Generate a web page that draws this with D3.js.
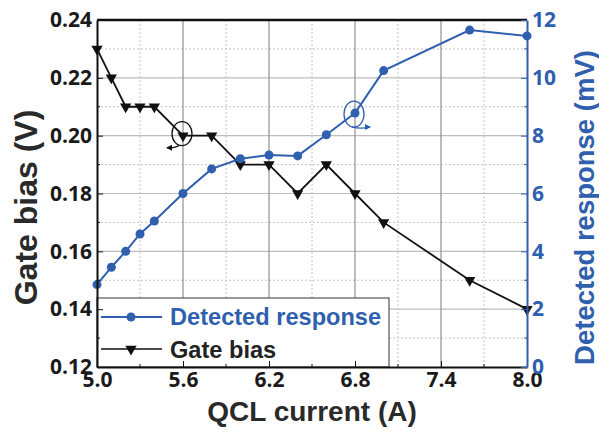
<!DOCTYPE html>
<html>
<head>
<meta charset="utf-8">
<script src="https://cdn.jsdelivr.net/npm/d3@7"></script>
<style>
  body { margin: 0; background: #fff; }
  svg { display: block; }
</style>
</head>
<body>
<div id="chart"></div>
<script>
// data
var current   = [5.0, 5.1, 5.2, 5.3, 5.4, 5.6, 5.8, 6.0, 6.2, 6.4, 6.6, 6.8, 7.0, 7.6, 8.0];
var gateBias  = [0.23, 0.22, 0.21, 0.21, 0.21, 0.20, 0.20, 0.19, 0.19, 0.18, 0.19, 0.18, 0.17, 0.15, 0.14];
var response  = [2.85, 3.45, 4.0, 4.6, 5.05, 6.0, 6.85, 7.2, 7.33, 7.3, 8.03, 8.78, 10.25, 11.65, 11.45];
var xTicks    = [5.0, 5.6, 6.2, 6.8, 7.4, 8.0];
var xMinor    = [5.3, 5.9, 6.5, 7.1, 7.7];
var yTicks    = [0.12, 0.14, 0.16, 0.18, 0.20, 0.22, 0.24];
var yMinor    = [0.13, 0.15, 0.17, 0.19, 0.21, 0.23];
var y2Ticks   = [0, 2, 4, 6, 8, 10, 12];
var y2Minor   = [1, 3, 5, 7, 9, 11];

var blue = "#2f5fae", black = "#111";

// set the dimensions and margins of the graph
var margin = {top: 20, right: 72, bottom: 66, left: 97},
    width = 599 - margin.left - margin.right,
    height = 433 - margin.top - margin.bottom;

var svg = d3.select("#chart")
  .append("svg")
    .attr("width", 599)
    .attr("height", 433)
  .append("g")
    .attr("transform", "translate(" + margin.left + "," + margin.top + ")");

var x = d3.scaleLinear().domain([5.0, 8.0]).range([0, width]);
var y = d3.scaleLinear().domain([0.12, 0.24]).range([height, 0]);
var y2 = d3.scaleLinear().domain([0, 12]).range([height, 0]);

// grid: minor dotted, major solid
svg.selectAll(".hmin").data(yMinor).enter().append("line")
  .attr("x1", 0).attr("x2", width)
  .attr("y1", function(d){ return y(d) }).attr("y2", function(d){ return y(d) })
  .style("stroke", "#c4c4c4").style("stroke-dasharray", "2,2").style("stroke-width", 1);
svg.selectAll(".vmin").data(xMinor).enter().append("line")
  .attr("y1", 0).attr("y2", height)
  .attr("x1", function(d){ return x(d) }).attr("x2", function(d){ return x(d) })
  .style("stroke", "#c4c4c4").style("stroke-dasharray", "2,2").style("stroke-width", 1);
svg.selectAll(".hmaj").data(yTicks.slice(1, -1)).enter().append("line")
  .attr("x1", 0).attr("x2", width)
  .attr("y1", function(d){ return y(d) }).attr("y2", function(d){ return y(d) })
  .style("stroke", "#bdbdbd").style("stroke-width", 1.2);
svg.selectAll(".vmaj").data(xTicks.slice(1, -1)).enter().append("line")
  .attr("y1", 0).attr("y2", height)
  .attr("x1", function(d){ return x(d) }).attr("x2", function(d){ return x(d) })
  .style("stroke", "#8f8f8f").style("stroke-width", 1.2);

// Gate bias line
var lineG = d3.line()
  .x(function(d, i){ return x(current[i]) })
  .y(function(d){ return y(d) });
svg.append("path")
  .datum(gateBias)
  .attr("d", lineG)
  .style("fill", "none").style("stroke", black).style("stroke-width", 1.8);

var tri = d3.symbol().type(d3.symbolTriangle).size(55);
svg.selectAll(".tri").data(gateBias).enter().append("path")
  .attr("d", tri)
  .attr("transform", function(d, i){ return "translate(" + x(current[i]) + "," + y(d) + ") rotate(180)" })
  .style("fill", black);

// Detected response line
var lineR = d3.line()
  .x(function(d, i){ return x(current[i]) })
  .y(function(d){ return y2(d) });
svg.append("path")
  .datum(response)
  .attr("d", lineR)
  .style("fill", "none").style("stroke", blue).style("stroke-width", 2);
svg.selectAll(".dot").data(response).enter().append("circle")
  .attr("cx", function(d, i){ return x(current[i]) })
  .attr("cy", function(d){ return y2(d) })
  .attr("r", 4.5)
  .style("fill", blue);

// annotation circles with arrows
var gx = x(5.6), gy = y(0.20);
svg.append("ellipse").attr("cx", gx - 1).attr("cy", gy - 2).attr("rx", 10).attr("ry", 12)
  .style("fill", "none").style("stroke", black).style("stroke-width", 1.3);
svg.append("path")
  .attr("d", "M" + (gx - 4) + "," + (gy + 10) + " Q" + (gx - 10) + "," + (gy + 13) + " " + (gx - 16) + "," + (gy + 12))
  .style("fill", "none").style("stroke", black).style("stroke-width", 1.3);
svg.append("path")
  .attr("d", "M" + (gx - 17) + "," + (gy + 12) + " l6,-3 l0,6 z").style("fill", black);

var rx = x(6.8), ry = y2(8.78);
svg.append("ellipse").attr("cx", rx - 1).attr("cy", ry + 1).attr("rx", 10).attr("ry", 13)
  .style("fill", "none").style("stroke", blue).style("stroke-width", 1.3);
svg.append("path")
  .attr("d", "M" + (rx - 3) + "," + (ry + 14) + " Q" + (rx + 6) + "," + (ry + 16) + " " + (rx + 15) + "," + (ry + 14))
  .style("fill", "none").style("stroke", blue).style("stroke-width", 1.3);
svg.append("path")
  .attr("d", "M" + (rx + 16) + "," + (ry + 14) + " l-6,-3 l0,6 z").style("fill", blue);

// legend
var leg = svg.append("g").attr("transform", "translate(0," + (height - 69) + ")");
leg.append("rect").attr("x", 0).attr("y", 0).attr("width", 292).attr("height", 69)
  .style("fill", "#fff").style("stroke", "#333").style("stroke-width", 1);
leg.append("line").attr("x1", 4).attr("x2", 65).attr("y1", 19).attr("y2", 19)
  .style("stroke", blue).style("stroke-width", 2);
leg.append("circle").attr("cx", 34).attr("cy", 19).attr("r", 4.5).style("fill", blue);
leg.append("text").attr("x", 73).attr("y", 27).text("Detected response")
  .style("font-family", "'Liberation Sans', Arial, sans-serif").style("font-weight", "bold")
  .style("font-size", "23.6px").style("fill", blue);
leg.append("line").attr("x1", 4).attr("x2", 65).attr("y1", 51).attr("y2", 51)
  .style("stroke", black).style("stroke-width", 1.5);
leg.append("path").attr("d", tri).attr("transform", "translate(34,51) rotate(180)").style("fill", black);
leg.append("text").attr("x", 73).attr("y", 60).text("Gate bias")
  .style("font-family", "'Liberation Sans', Arial, sans-serif").style("font-weight", "bold")
  .style("font-size", "23.6px").style("fill", "#222");

// frame
svg.append("line").attr("x1", 0).attr("x2", width).attr("y1", 0).attr("y2", 0)
  .style("stroke", black).style("stroke-width", 2.5);

// X axis
var xAxis = svg.append("g")
  .attr("transform", "translate(0," + height + ")")
  .call(d3.axisBottom(x).tickValues(xTicks).tickFormat(d3.format(".1f")).tickSizeInner(-6).tickSizeOuter(0).tickPadding(5));
xAxis.append("g").selectAll("line").data(xMinor).enter().append("line")
  .attr("x1", function(d){ return x(d) }).attr("x2", function(d){ return x(d) })
  .attr("y1", 0).attr("y2", -3).style("stroke", black);

// left Y axis
var yAxis = svg.append("g")
  .call(d3.axisLeft(y).tickValues(yTicks).tickFormat(d3.format(".2f")).tickSizeInner(-6).tickSizeOuter(0).tickPadding(5));
yAxis.append("g").selectAll("line").data(yMinor).enter().append("line")
  .attr("y1", function(d){ return y(d) }).attr("y2", function(d){ return y(d) })
  .attr("x1", 0).attr("x2", 3).style("stroke", black);

// right Y axis
var y2Axis = svg.append("g")
  .attr("transform", "translate(" + width + ",0)")
  .call(d3.axisRight(y2).tickValues(y2Ticks).tickSizeInner(-6).tickSizeOuter(0).tickPadding(5));
y2Axis.append("g").selectAll("line").data(y2Minor).enter().append("line")
  .attr("y1", function(d){ return y2(d) }).attr("y2", function(d){ return y2(d) })
  .attr("x1", 0).attr("x2", -3).style("stroke", blue);

[xAxis, yAxis].forEach(function(a){
  a.select(".domain").style("stroke", black).style("stroke-width", 2);
  a.selectAll(".tick line").style("stroke", black);
  a.selectAll("text").style("font-family", "'Open Sans', sans-serif").style("font-weight", "bold")
    .style("font-size", "21px").style("fill", "#1a1a1a");
});
y2Axis.select(".domain").style("stroke", blue).style("stroke-width", 2);
y2Axis.selectAll(".tick line").style("stroke", blue);
y2Axis.selectAll("text").style("font-family", "'Open Sans', sans-serif").style("font-weight", "bold")
  .style("font-size", "21px").style("fill", blue);

// axis titles
svg.append("text")
  .attr("x", width / 2).attr("y", height + 54)
  .attr("text-anchor", "middle")
  .text("QCL current (A)")
  .style("font-family", "'Liberation Sans', Arial, sans-serif").style("font-weight", "bold")
  .style("font-size", "28px").style("fill", "#2a2a2a");

svg.append("text")
  .attr("transform", "translate(-60," + (height / 2 + 14) + ") rotate(-90)")
  .attr("text-anchor", "middle")
  .text("Gate bias (V)")
  .style("font-family", "'Liberation Sans', Arial, sans-serif").style("font-weight", "bold")
  .style("font-size", "32px").style("fill", "#2a2a2a");

svg.append("text")
  .attr("transform", "translate(" + (width + 67) + "," + (height / 2 + 14) + ") rotate(-90)")
  .attr("text-anchor", "middle")
  .text("Detected response (mV)")
  .style("font-family", "'Liberation Sans', Arial, sans-serif").style("font-weight", "bold")
  .style("font-size", "27.5px").style("fill", blue);
</script>
</body>
</html>
